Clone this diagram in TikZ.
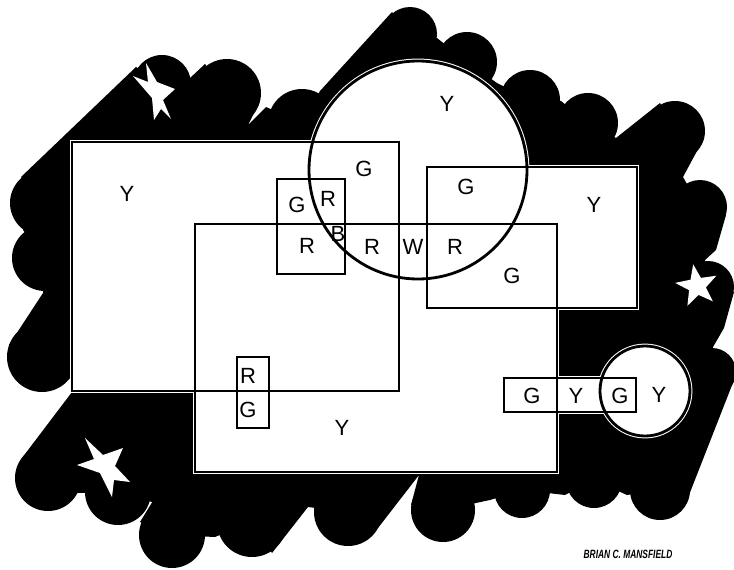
\documentclass[tikz,border=0pt]{standalone}
\usepackage{fontspec}
\setmainfont{Liberation Sans}
\begin{document}
\begin{tikzpicture}[x=1pt,y=-1pt,
  lbl/.style={font=\fontsize{22}{25}\selectfont, inner sep=0pt},
  halo/.style={draw=white, line width=4.8pt},
  edgeline/.style={draw=black, line width=2.8pt},
  blob/.style={fill=black},
  starfill/.style={fill=white}]
\useasboundingbox (0,0) rectangle (734,570);
% ---------- black cloud ----------
\begin{scope}
\clip (0,0) rectangle (734,570);
\fill[blob] (43,203) -- (21,177) -- (136,67) -- (162,84) -- (190,78) -- (205,64)
 -- (227,93) -- (259,103) -- (248,125) -- (266,107) -- (302,123) -- (320,91)
 -- (392,12) -- (410,34) -- (437,38) -- (467,62) -- (497,83) -- (530,100)
 -- (561,101) -- (588,123) -- (616,138) -- (660,103) -- (675,131) -- (704,138)
 -- (683,177) -- (700,207) -- (726,215) -- (716,250) -- (705,260) -- (708,287)
 -- (734,292) -- (724,328) -- (713,347) -- (712,372) -- (736,375) -- (689,495)
 -- (660,490) -- (627,495) -- (594,480) -- (565,495) -- (522,490) -- (490,500)
 -- (443,510) -- (411,505) -- (419,475) -- (378,528) -- (348,512) -- (308,507)
 -- (272,553) -- (252,522) -- (215,537) -- (172,535) -- (140,522) -- (164,483)
 -- (152,502) -- (118,492) -- (78,493) -- (48,478) -- (22,458) -- (72,392)
 -- (72,380) -- (42,357) -- (9,345) -- (43,293) -- (45,258) -- (23,230) -- cycle;
\foreach \cx/\cy/\r in {43/203/33, 45/258/33, 42/357/35, 162/84/29, 227/93/34,
  302/123/34, 410/34/27, 467/62/30, 530/100/30, 588/123/30, 675/131/30,
  700/207/27, 708/287/26, 712/372/24, 660/490/30, 594/480/28, 522/490/28,
  443/510/32, 348/512/34, 252/522/35, 172/535/33, 118/492/33, 48/478/33}
  \fill[blob] (\cx,\cy) circle[radius=\r pt];
\end{scope}
% ---------- white stars ----------
\fill[starfill] (146,63) -- (157,82) -- (175,89) -- (163,100) -- (171,119) -- (161,109)
 -- (154,120) -- (152,98) -- (133,76) -- (148,82) -- cycle;
\fill[starfill] (85,438) -- (103,455) -- (123,448) -- (115,466) -- (130,482) -- (114,480)
 -- (112,497) -- (100,473) -- (77,465) -- (94,459) -- cycle;
\fill[starfill] (693.2,264.3) -- (700.9,277.9) -- (716.4,275.7) -- (705.9,287.3)
 -- (712.8,301.3) -- (698.6,294.9) -- (687.4,305.8) -- (689.1,290.2)
 -- (675.2,282.9) -- (690.5,279.7) -- cycle;
% ---------- shapes ----------
\def\myrects{72/142/399/391, 195/224/557/472, 427/167/637/308, 277/179/345/274, 237/357/269/428, 504/378/636/412}
\foreach \a/\b/\c/\d in \myrects \fill[white] (\a,\b) rectangle (\c,\d);
\fill[white] (418,170) circle[radius=109pt];
\fill[white] (645,391) circle[radius=45pt];
\foreach \a/\b/\c/\d in \myrects \path[halo] (\a,\b) rectangle (\c,\d);
\path[halo] (418,170) circle[radius=109pt];
\path[halo] (645,391) circle[radius=45pt];
\foreach \a/\b/\c/\d in \myrects \path[edgeline] (\a,\b) rectangle (\c,\d);
\path[edgeline] (418,170) circle[radius=109pt];
\path[edgeline] (645,391) circle[radius=45pt];
% ---------- letters ----------
\node[lbl] (yA) at (127,194) {Y};
\node[lbl] (gCirc) at (364,169) {G};
\node[lbl] (yCirc) at (447,104) {Y};
\node[lbl] (gD) at (297,205) {G};
\node[lbl] (rD) at (328,199) {R};
\node[lbl] (rD2) at (307,246) {R};
\node[lbl] (bD) at (338,234) {B};
\node[lbl] (r2) at (372,247) {R};
\node[lbl] (w) at (413,247) {W};
\node[lbl] (r3) at (455,247) {R};
\node[lbl] (gC) at (466,187) {G};
\node[lbl] (yC) at (594,205) {Y};
\node[lbl] (gC2) at (512,276) {G};
\node[lbl] (rE) at (248,376) {R};
\node[lbl] (gE) at (248,410) {G};
\node[lbl] (yB) at (342,428) {Y};
\node[lbl] (gF1) at (532,396) {G};
\node[lbl] (yF) at (576,396) {Y};
\node[lbl] (gF2) at (620,396) {G};
\node[lbl] (yS) at (659,395) {Y};
\node[inner sep=0pt, font=\fontsize{12}{14}\selectfont\bfseries\itshape] (sig) at (628,554)
  {\scalebox{0.7}[1]{BRIAN C. MANSFIELD}};
\end{tikzpicture}
\end{document}
